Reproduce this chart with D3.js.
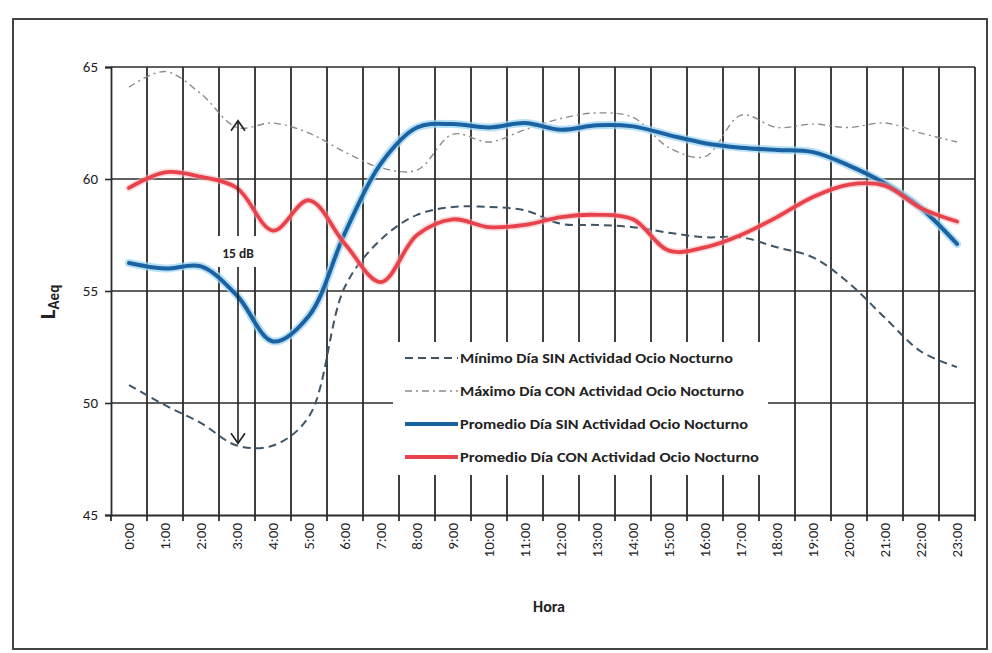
<!DOCTYPE html>
<html>
<head>
<meta charset="utf-8">
<script src="https://cdn.jsdelivr.net/npm/d3@7"></script>
<style>
  html, body { margin: 0; padding: 0; background: #ffffff; }
  svg { display: block; }
  text { font-family: Carlito, Lato, "Liberation Sans", sans-serif; fill: #222; }
</style>
</head>
<body>
<svg id="chart" width="992" height="653"></svg>
<script>
// ---------- data ----------
const hours = ["0:00","1:00","2:00","3:00","4:00","5:00","6:00","7:00","8:00","9:00","10:00","11:00",
               "12:00","13:00","14:00","15:00","16:00","17:00","18:00","19:00","20:00","21:00","22:00","23:00"];

const minimoSin = [50.8, 49.9, 49.1, 48.1, 48.1, 49.4, 55.2, 57.3, 58.4, 58.75, 58.75, 58.6,
                   58.0, 57.95, 57.85, 57.6, 57.4, 57.4, 56.95, 56.5, 55.35, 53.8, 52.3, 51.6];

const maximoCon = [64.1, 64.8, 63.8, 62.3, 62.5, 62.05, 61.2, 60.5, 60.4, 62.0, 61.65, 62.2,
                   62.7, 62.95, 62.75, 61.4, 61.0, 62.85, 62.3, 62.45, 62.3, 62.5, 62.05, 61.65];

const promedioSin = [56.25, 56.0, 56.1, 54.8, 52.75, 53.9, 57.6, 60.7, 62.3, 62.45, 62.3, 62.5,
                     62.2, 62.4, 62.35, 61.96, 61.6, 61.4, 61.3, 61.2, 60.6, 59.8, 58.7, 57.1];

const promedioCon = [59.6, 60.3, 60.1, 59.6, 57.7, 59.05, 57.1, 55.4, 57.5, 58.2, 57.85, 57.95,
                     58.3, 58.4, 58.2, 56.8, 56.95, 57.5, 58.3, 59.2, 59.75, 59.7, 58.7, 58.1];

const yTicks = [45, 50, 55, 60, 65];
const seriesNames = ["Mínimo Día SIN Actividad Ocio Nocturno",
                     "Máximo Día CON Actividad Ocio Nocturno",
                     "Promedio Día SIN Actividad Ocio Nocturno",
                     "Promedio Día CON Actividad Ocio Nocturno"];
const annotationText = "15 dB";
const xTitle = "Hora";

// ---------- layout ----------
const svg = d3.select("#chart");
const plot = { left: 111, right: 975, top: 67, bottom: 515 };

const x = d3.scaleBand().domain(hours).range([plot.left, plot.right]).padding(0);
const y = d3.scaleLinear().domain([45, 65]).range([plot.bottom, plot.top]);
const cx = h => x(h) + x.bandwidth() / 2;

// outer frame
svg.append("rect").attr("x", 13).attr("y", 19).attr("width", 974).attr("height", 630)
  .attr("fill", "#fff").attr("stroke", "#444").attr("stroke-width", 2);

// gridlines
const grid = svg.append("g");
const bounds = hours.map(h => x(h)).concat([plot.right]);
grid.selectAll("line.v").data(bounds.slice(1)).join("line")
  .attr("x1", d => d).attr("x2", d => d)
  .attr("y1", plot.top).attr("y2", plot.bottom + 6)
  .attr("stroke", "#2b2b2b").attr("stroke-width", 1.8);
grid.selectAll("line.h").data(yTicks.slice(1)).join("line")
  .attr("x1", plot.left).attr("x2", plot.right)
  .attr("y1", d => y(d)).attr("y2", d => y(d))
  .attr("stroke", "#2b2b2b").attr("stroke-width", 1.6);

// y axis
const yAxis = svg.append("g").attr("transform", `translate(${plot.left},0)`)
  .call(d3.axisLeft(y).tickValues(yTicks).tickSize(6).tickFormat(d3.format("d")));
yAxis.select(".domain").attr("stroke", "#2b2b2b").attr("stroke-width", 1.8);
yAxis.selectAll(".tick line").attr("stroke", "#2b2b2b").attr("stroke-width", 1.6);
yAxis.selectAll(".tick text").attr("x", -13).attr("font-size", 15)
  .style("font-family", "Carlito, Lato, sans-serif").attr("fill", "#222");

// x axis
const xAxis = svg.append("g").attr("transform", `translate(0,${plot.bottom})`)
  .call(d3.axisBottom(x).tickSize(0));
xAxis.select(".domain").attr("stroke", "#2b2b2b").attr("stroke-width", 1.8);
xAxis.selectAll(".tick text")
  .attr("transform", "rotate(-90)")
  .attr("x", -8).attr("y", 0).attr("dy", "0.35em")
  .attr("text-anchor", "end").attr("font-size", 15)
  .style("font-family", "Carlito, Lato, sans-serif").attr("fill", "#222");
// boundary tick marks
svg.append("line").attr("x1", plot.left).attr("x2", plot.left)
  .attr("y1", plot.bottom).attr("y2", plot.bottom + 6).attr("stroke", "#2b2b2b").attr("stroke-width", 1.8);

// axis titles
const yl = svg.append("text").attr("transform", "translate(55,302) rotate(-90)")
  .attr("text-anchor", "middle").attr("font-weight", "bold").attr("fill", "#222");
yl.append("tspan").attr("font-size", 23).text("L");
yl.append("tspan").attr("font-size", 15).attr("dy", 4).text("Aeq");

svg.append("text").attr("x", 549).attr("y", 612).attr("text-anchor", "middle")
  .attr("font-size", 16).attr("font-weight", "bold").text(xTitle);

// ---------- lines ----------
const line = d3.line().x((d, i) => cx(hours[i])).y(d => y(d)).curve(d3.curveCatmullRom.alpha(0.5));

svg.append("path").datum(minimoSin).attr("d", line).attr("fill", "none")
  .attr("stroke", "#3f5566").attr("stroke-width", 2).attr("stroke-dasharray", "8,5");
svg.append("path").datum(maximoCon).attr("d", line).attr("fill", "none")
  .attr("stroke", "#8c8c8c").attr("stroke-width", 1.4).attr("stroke-dasharray", "7,4,2,4");

svg.append("path").datum(promedioSin).attr("d", line).attr("fill", "none")
  .attr("stroke", "#9fd6f0").attr("stroke-width", 8).attr("stroke-opacity", 0.75).attr("stroke-linecap", "round");
svg.append("path").datum(promedioSin).attr("d", line).attr("fill", "none")
  .attr("stroke", "#1b62a3").attr("stroke-width", 4).attr("stroke-linecap", "round");

svg.append("path").datum(promedioCon).attr("d", line).attr("fill", "none")
  .attr("stroke", "#f6b3b5").attr("stroke-width", 7).attr("stroke-opacity", 0.5).attr("stroke-linecap", "round");
svg.append("path").datum(promedioCon).attr("d", line).attr("fill", "none")
  .attr("stroke", "#e8434c").attr("stroke-width", 3.8).attr("stroke-linecap", "round");

// ---------- annotation arrow ----------
const ax = 238, aTop = y(62.6), aBot = y(48.2);
svg.append("line").attr("x1", ax).attr("x2", ax).attr("y1", aTop).attr("y2", aBot)
  .attr("stroke", "#222").attr("stroke-width", 1.6);
svg.append("path").attr("d", `M${ax-7},${aTop+10} L${ax},${aTop} L${ax+7},${aTop+10}`)
  .attr("fill", "none").attr("stroke", "#222").attr("stroke-width", 1.6);
svg.append("path").attr("d", `M${ax-7},${aBot-10} L${ax},${aBot} L${ax+7},${aBot-10}`)
  .attr("fill", "none").attr("stroke", "#222").attr("stroke-width", 1.6);
svg.append("rect").attr("x", 215).attr("y", 236).attr("width", 47).attr("height", 31).attr("fill", "#fff");
svg.append("text").attr("x", ax).attr("y", 258).attr("text-anchor", "middle")
  .attr("font-size", 13.5).attr("font-weight", "bold").text(annotationText);

// ---------- legend ----------
const lg = svg.append("g");
lg.append("rect").attr("x", 393).attr("y", 342).attr("width", 375).attr("height", 133).attr("fill", "#fff");
const legendStyles = [
  { stroke: "#3f5566", width: 2, dash: "8,5" },
  { stroke: "#8c8c8c", width: 1.4, dash: "7,4,2,4" },
  { stroke: "#1b62a3", width: 4, dash: null },
  { stroke: "#e8434c", width: 3.8, dash: null }
];
const legendWidths = [273, 284, 288, 299];
seriesNames.forEach((name, i) => {
  const ry = 358 + i * 33;
  const s = legendStyles[i];
  lg.append("line").attr("x1", 405).attr("x2", 458).attr("y1", ry).attr("y2", ry)
    .attr("stroke", s.stroke).attr("stroke-width", s.width)
    .attr("stroke-dasharray", s.dash);
  lg.append("text").attr("x", 460).attr("y", ry).attr("dy", "0.35em")
    .attr("font-size", 14).attr("font-weight", "bold")
    .attr("textLength", legendWidths[i]).attr("lengthAdjust", "spacingAndGlyphs")
    .text(name);
});
</script>
</body>
</html>
